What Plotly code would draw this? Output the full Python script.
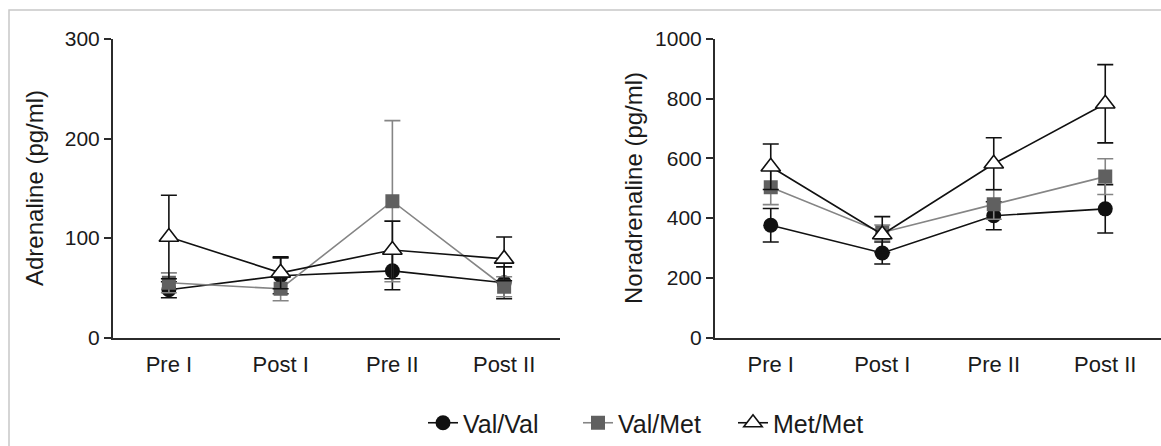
import plotly.graph_objects as go

categories = ["Pre I", "Post I", "Pre II", "Post II"]
series_names = ["Val/Val", "Val/Met", "Met/Met"]

# Adrenaline (pg/ml): mean and SEM
adr_valval = [48, 62, 67, 55]
adr_valval_err = [8, 18, 19, 16]
adr_valmet = [55, 49, 137, 51]
adr_valmet_err = [10, 12, 81, 10]
adr_metmet = [101, 65, 88, 79]
adr_metmet_err = [42, 16, 29, 22]

# Noradrenaline (pg/ml): mean and SEM
nor_valval = [376, 283, 408, 431]
nor_valval_err = [56, 37, 47, 81]
nor_valmet = [503, 352, 446, 539]
nor_valmet_err = [58, 25, 50, 60]
nor_metmet = [572, 345, 582, 783]
nor_metmet_err = [76, 60, 87, 131]

adr_ticks = [0, 100, 200, 300]
nor_ticks = [0, 200, 400, 600, 800, 1000]

W, H = 1161, 446
FONT = "Arial, Liberation Sans, sans-serif"
TXT = "#1a1a1a"
AX = "#2b2b2b"

styles = {
    "Val/Val": dict(line=dict(color="#111111", width=1.6),
                    marker=dict(symbol="circle", size=15, color="#111111",
                                line=dict(color="#111111", width=0)),
                    err="#111111"),
    "Val/Met": dict(line=dict(color="#858585", width=1.6),
                    marker=dict(symbol="square", size=14, color="#606060",
                                line=dict(color="#606060", width=0)),
                    err="#858585"),
    "Met/Met": dict(line=dict(color="#111111", width=1.6),
                    marker=dict(symbol="triangle-up", size=17, color="white",
                                line=dict(color="#111111", width=1.6)),
                    err="#111111"),
}

fig = go.Figure()

panels = [
    ("x", "y", [adr_valval, adr_valmet, adr_metmet],
     [adr_valval_err, adr_valmet_err, adr_metmet_err]),
    ("x2", "y2", [nor_valval, nor_valmet, nor_metmet],
     [nor_valval_err, nor_valmet_err, nor_metmet_err]),
]

for pi, (xa, ya, vals, errs) in enumerate(panels):
    for name, v, e in zip(series_names, vals, errs):
        st = styles[name]
        fig.add_trace(go.Scatter(
            x=categories, y=v, name=name, mode="lines+markers",
            xaxis=xa, yaxis=ya,
            line=st["line"], marker=st["marker"],
            error_y=dict(type="data", array=e, visible=True,
                         color=st["err"], thickness=1.6, width=8),
            showlegend=(pi == 0),
            legendgroup=name,
        ))

ydom = [1 - 337.5 / H, 1 - 39 / H]
common_x = dict(type="category", range=[-0.5, 3.5], showline=True,
                linecolor=AX, linewidth=2, ticks="outside", ticklen=6,
                tickcolor="rgba(0,0,0,0)", showgrid=False, zeroline=False,
                automargin=False,
                tickfont=dict(family=FONT, size=22, color=TXT))
common_y = dict(showline=True, linecolor=AX, linewidth=2, ticks="outside",
                ticklen=7, tickwidth=1.5, tickcolor=AX, showgrid=False,
                zeroline=False, domain=ydom, automargin=False,
                tickfont=dict(family=FONT, size=21, color=TXT))

fig.update_layout(
    width=W, height=H,
    margin=dict(l=0, r=0, t=0, b=0, pad=0, autoexpand=False),
    paper_bgcolor="white", plot_bgcolor="white",
    xaxis=dict(common_x, domain=[113 / W, 560 / W], anchor="y"),
    yaxis=dict(common_y, range=[0, 300], tickvals=adr_ticks, anchor="x"),
    xaxis2=dict(common_x, domain=[715 / W, 1.0], anchor="y2"),
    yaxis2=dict(common_y, range=[0, 1000], tickvals=nor_ticks, anchor="x2"),
    legend=dict(orientation="h", x=423 / W, xanchor="left",
                y=1 - 423 / H, yanchor="middle",
                font=dict(family=FONT, size=25, color=TXT),
                bgcolor="rgba(0,0,0,0)", itemwidth=30, entrywidth=110),
    showlegend=True,
    annotations=[
        dict(text="Adrenaline (pg/ml)", x=34 / W, y=1 - 188 / H,
             xref="paper", yref="paper", textangle=-90, showarrow=False,
             xanchor="center", yanchor="middle",
             font=dict(family=FONT, size=24, color=TXT)),
        dict(text="Noradrenaline (pg/ml)", x=633 / W, y=1 - 188 / H,
             xref="paper", yref="paper", textangle=-90, showarrow=False,
             xanchor="center", yanchor="middle",
             font=dict(family=FONT, size=24, color=TXT)),
    ],
    shapes=[
        dict(type="rect", xref="paper", yref="paper",
             x0=9 / W, x1=1.05, y0=-0.05, y1=1 - 10 / H,
             line=dict(color="#c8c8c8", width=1.5), fillcolor="rgba(0,0,0,0)",
             layer="below"),
    ],
)

fig.write_html("out.html",
               config={"displayModeBar": False},
               post_script="document.body.style.margin='0';document.body.style.overflow='hidden';")
